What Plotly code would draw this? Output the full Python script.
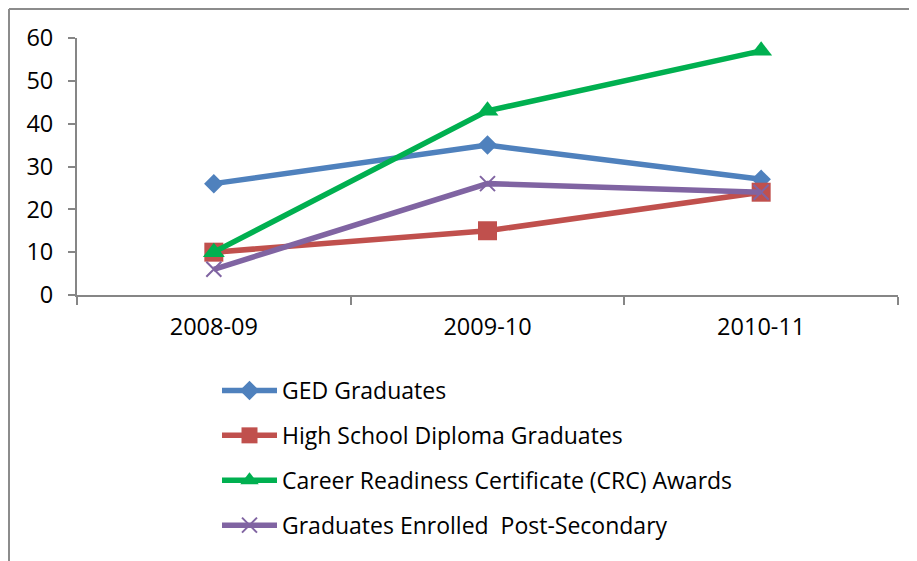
import plotly.graph_objects as go

categories = ["2008-09", "2009-10", "2010-11"]
ged = [26, 35, 27]
hs_diploma = [10, 15, 24]
crc_awards = [10, 43, 57]
enrolled_post_secondary = [6, 26, 24]
y_ticks = [0, 10, 20, 30, 40, 50, 60]

FONT = "Open Sans"
AXIS_GRAY = "#868686"

series = [
    ("GED Graduates", ged, "#4F81BD", "diamond", 15),
    ("High School Diploma Graduates", hs_diploma, "#C0504D", "square", 19),
    ("Career Readiness Certificate (CRC) Awards", crc_awards, "#00B050", "triangle-up", 19),
    ("Graduates Enrolled  Post-Secondary", enrolled_post_secondary, "#8064A2", "x-thin", 15),
]

fig = go.Figure()
for i, (name, vals, color, sym, size) in enumerate(series):
    marker = dict(symbol=sym, size=size, color=color)
    if sym == "x-thin":
        marker["line"] = dict(color=color, width=2)
    else:
        marker["line"] = dict(width=0)
    fig.add_trace(go.Scatter(
        x=categories, y=vals, name=name, mode="lines+markers",
        line=dict(color=color, width=5.5), marker=marker,
        legendgroup=f"g{i}",
    ))

# figure-pixel coordinates (page has an 8px body margin)
L, R, T, B = 69, 890, 30, 287
W, H = 917, 561
pw, ph = R - L, B - T

fig.update_layout(
    width=W, height=H,
    margin=dict(l=L, r=W - R, t=T, b=H - B, autoexpand=False),
    paper_bgcolor="white", plot_bgcolor="white",
    font=dict(family=FONT, size=22, color="black"),
    showlegend=True,
    legend=dict(
        xref="container", yref="container",
        x=209 / W, y=1 - 361 / H, xanchor="left", yanchor="top",
        orientation="v", tracegroupgap=12, itemwidth=55,
        font=dict(family=FONT, size=23, color="black"),
        bgcolor="rgba(0,0,0,0)",
    ),
    xaxis=dict(
        type="category", range=[-0.5, 2.5], showgrid=False, zeroline=False,
        showline=True, linecolor=AXIS_GRAY, linewidth=2,
        ticks="outside", tickson="boundaries", ticklen=8, tickcolor=AXIS_GRAY, tickwidth=2,
        tickfont=dict(family=FONT, size=23.5, color="black"),
        ticklabelstandoff=10,
    ),
    yaxis=dict(
        range=[0, 60], tickvals=y_ticks, showgrid=False, zeroline=False,
        showline=True, linecolor=AXIS_GRAY, linewidth=2,
        ticks="outside", ticklen=7, tickcolor=AXIS_GRAY, tickwidth=2,
        tickfont=dict(family=FONT, size=23.5, color="black"),
        ticklabelstandoff=10,
    ),
)

# outer chart frame (left and top edges visible; others run off-image)
x_left = (1 - L) / pw
y_top = 1 + (T - 1) / ph
fig.add_shape(type="line", xref="paper", yref="paper", x0=x_left, x1=x_left,
              y0=y_top, y1=-(H - B + 20) / ph, line=dict(color="#8c8c8c", width=2))
fig.add_shape(type="line", xref="paper", yref="paper", x0=x_left, x1=(W + 20 - L) / pw,
              y0=y_top, y1=y_top, line=dict(color="#8c8c8c", width=2))

fig.write_html("out.html")
